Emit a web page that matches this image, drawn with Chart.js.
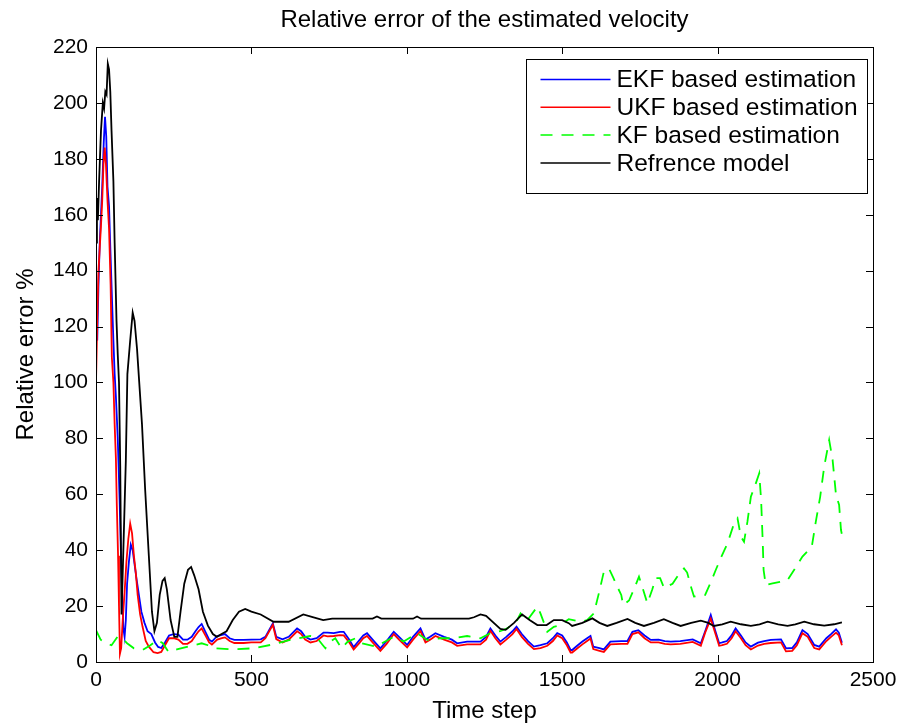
<!DOCTYPE html>
<html>
<head>
<meta charset="utf-8">
<title>Relative error of the estimated velocity</title>
<script src="https://cdn.jsdelivr.net/npm/chart.js@4.4.1/dist/chart.umd.min.js"></script>
<style>
    html, body { margin: 0; padding: 0; background: #ffffff; }
    #wrap { width: 911px; height: 726px; }
</style>
</head>
<body>
<div id="wrap"><canvas id="errorChart" width="911" height="726"></canvas></div>
<script>
// Series: [time step, relative error %]
const ekfSeries = [
    [0,118],[4,115],[8,135],[12,150],[16,160],[20,170],[25,186],[29,195],[33,188],[37,170],[42,163],[47,145],
    [52,128],[56,115],[60,103],[64,95],[70,80],[76,58],[80,40],[84,25],[88,12],[92,9],[96,15],[100,28],
    [106,36],[112,42],[118,40],[124,35],[130,30],[138,24],[146,18],[156,14],[166,11],[178,10],[190,7],
    [200,5.4],[210,5],[222,7],[235,9.5],[250,10],[265,9.8],[280,8],[294,8],[308,9],[320,11],[330,12.5],
    [340,13.6],[352,10.8],[364,8],[373,7.3],[390,9.3],[405,9.7],[415,10],[430,8.5],[445,7.9],[475,7.9],
    [500,8],[530,8.1],[545,9],[560,12],[569,13.8],[580,9],[600,8.1],[620,9],[647,12],[660,11],[673,9],
    [690,8],[710,8.5],[732,10.5],[745,10.5],[765,10.3],[785,10.8],[797,10.8],[815,8],[829,5.3],[845,7.5],
    [860,9.5],[872,10.3],[890,8],[915,4.9],[935,7.5],[958,10.8],[975,9],[1001,6.1],[1020,9],[1044,12],
    [1060,8],[1075,9],[1092,10.3],[1120,9],[1145,8],[1162,6.7],[1194,7.3],[1237,7.3],[1255,9],[1269,12],
    [1285,9.5],[1301,7.3],[1320,9],[1340,11],[1353,12.6],[1370,10],[1390,7.5],[1409,5.5],[1430,6],
    [1452,6.7],[1470,8.5],[1484,10.3],[1500,9.5],[1515,7],[1527,4.3],[1532,4.3],[1550,6],[1565,7.3],
    [1580,8.5],[1591,9.3],[1600,5.5],[1620,5],[1634,4.5],[1655,7.3],[1690,7.5],[1710,7.5],[1726,10.8],
    [1745,11.4],[1765,9.5],[1785,7.9],[1810,8],[1830,7.5],[1849,7.3],[1880,7.5],[1920,8.1],[1946,6.7],
    [1960,11],[1978,16.8],[1992,11.4],[2005,6.7],[2015,7],[2030,7.5],[2045,9.5],[2058,12],[2075,9.5],
    [2090,7],[2107,5.5],[2130,6.9],[2150,7.5],[2171,7.9],[2204,8.1],[2220,4.9],[2240,5],[2255,7],
    [2273,11.4],[2290,10],[2311,6.1],[2327,5.5],[2350,8.5],[2365,10],[2381,11.7],[2390,10.5],[2400,6.9]
];

const ukfSeries = [
    [0,100],[4,122],[8,140],[12,148],[16,156],[20,165],[24,178],[28,184],[32,178],[37,165],[42,155],[47,135],
    [51,109],[56,100],[60,85],[64,73],[67,56],[71,38],[74,20],[77,3],[81,5],[86,15],[92,25],[98,36],
    [104,44],[110,49.5],[116,46],[122,38],[128,32],[134,24],[142,17],[150,12.5],[160,7.5],[170,5.5],
    [185,3.5],[198,3.2],[210,3.6],[222,6],[235,8.5],[250,8.5],[265,8],[280,6.5],[294,6.5],[308,7.5],
    [320,9.5],[330,11],[340,12],[352,9.5],[364,7],[373,6.2],[390,8],[405,8.5],[415,8.8],[430,7.5],
    [445,6.8],[475,6.8],[500,7],[530,7],[545,8.5],[560,11.5],[569,13.3],[580,8.2],[600,7],[620,8],
    [647,11],[660,10],[673,8],[690,7],[710,7.5],[732,9.5],[745,9.2],[765,9.3],[785,9.6],[797,9.5],
    [815,7],[829,4.5],[845,6.5],[860,8.5],[872,9.3],[890,7],[915,4],[935,6.5],[958,10],[975,8],
    [1001,5.2],[1020,8],[1044,11],[1060,7],[1075,8],[1092,9.3],[1120,8],[1145,7],[1162,5.8],[1194,6.3],
    [1237,6.3],[1255,8],[1269,11.2],[1285,8.5],[1301,6.3],[1320,8],[1340,10],[1353,11.8],[1370,9],
    [1390,6.5],[1409,4.6],[1430,5],[1452,5.8],[1470,7.5],[1484,9.5],[1500,8.5],[1515,6],[1527,3.4],
    [1532,3.4],[1550,5],[1565,6.3],[1580,7.5],[1591,8.4],[1600,4.6],[1620,4],[1634,3.6],[1655,6.3],
    [1690,6.5],[1710,6.5],[1726,10],[1745,10.6],[1765,8.5],[1785,7],[1810,7],[1830,6.5],[1849,6.3],
    [1880,6.5],[1920,7.2],[1946,5.8],[1960,10.5],[1978,15.5],[1992,10.5],[2005,5.8],[2015,6],[2030,6.5],
    [2045,8.5],[2058,11],[2075,8.5],[2090,6],[2107,4.5],[2130,5.9],[2150,6.5],[2171,6.8],[2204,7],
    [2220,3.8],[2240,4],[2255,6],[2273,10.3],[2290,9],[2311,5],[2327,4.5],[2350,7.5],[2365,9],
    [2381,10.5],[2390,9.5],[2400,6]
];

const kfSeries = [
    [0,11.4],[15,8],[30,6.8],[50,6],[69,9],[85,8.5],[100,6.7],[122,4.9],[150,4.3],[175,6],[198,7.9],
    [215,6.7],[233,3.7],[260,4.5],[303,5.7],[340,6.7],[360,6],[383,4.9],[440,4.5],[507,4.9],[561,6.1],
    [625,7.9],[689,9.3],[710,8.8],[730,6],[738,4.9],[750,7],[770,8.5],[790,4.9],[810,7.3],[835,8.5],
    [855,6.7],[900,5.5],[958,9],[990,7.3],[1033,10.3],[1066,7.9],[1110,8.5],[1150,8.5],[1194,9.3],
    [1237,8.5],[1269,10.3],[1300,11],[1323,12],[1355,15],[1366,17.4],[1385,14.5],[1420,19.8],[1430,17.4],
    [1452,10.8],[1473,12.6],[1494,13.2],[1521,15.3],[1559,14.4],[1580,15],[1602,17.4],[1618,24.6],
    [1634,32.3],[1650,33.5],[1665,30],[1677,27],[1690,24],[1696,20.4],[1715,22],[1730,25.8],[1747,30.5],
    [1760,26],[1774,21],[1790,26],[1801,30],[1815,30],[1828,26.4],[1855,28],[1870,30.5],[1892,33.5],
    [1902,32],[1914,27],[1924,23.4],[1960,24],[1976,28],[1994,32.9],[2010,37.1],[2032,42.5],[2053,49.6],
    [2064,51.4],[2075,44.8],[2085,43],[2096,50.2],[2107,59.1],[2123,63.9],[2134,67.5],[2140,58],
    [2145,43.6],[2148,32.9],[2155,27.5],[2177,28.1],[2225,29.3],[2246,32.9],[2273,37.7],[2303,41.2],
    [2316,50.2],[2330,59.1],[2343,69.9],[2359,79.4],[2370,72.3],[2381,59.7],[2391,56.2],[2397,47.2],
    [2405,43]
];

const refSeries = [
    [0,150],[3,166],[6,158],[10,172],[16,190],[22,200],[26,198],[30,204],[34,203],[38,214],[42,212],
    [46,204],[50,190],[56,172],[60,150],[66,122],[70,110],[74,100],[78,70],[82,17],[86,32],[96,72],
    [101,103],[110,115],[118,125],[124,122],[132,112],[148,85],[158,62],[170,38],[180,18],[188,11],
    [196,14],[205,24],[214,29],[221,30],[228,26],[240,15],[252,9],[262,9],[272,18],[284,28],[296,33],
    [306,34],[316,31],[330,26],[344,18],[360,13],[376,10],[389,9],[404,10],[420,11],[440,15],[460,18],
    [480,19],[500,18],[530,17],[571,14.4],[620,14.4],[667,17],[700,16],[731,15],[760,15.5],[800,15.5],
    [890,15.5],[904,16.3],[918,15.5],[1020,15.5],[1033,16.3],[1046,15.5],[1200,15.5],[1216,16],
    [1237,17],[1255,16.5],[1301,11.8],[1318,11.5],[1345,14],[1371,17],[1395,15],[1420,13.2],[1450,13.2],
    [1473,15],[1500,15],[1521,13.9],[1532,12.9],[1565,14],[1597,15.6],[1620,14],[1645,12.9],[1675,14],
    [1710,15.4],[1735,14],[1763,12.9],[1795,14],[1827,15.3],[1855,14],[1881,12.9],[1915,14],[1946,14.8],
    [1970,14],[1988,12.9],[2015,13.5],[2042,14.4],[2075,13.5],[2107,12.9],[2135,13.5],[2161,14.4],
    [2195,13.5],[2225,12.9],[2250,13.5],[2279,14.4],[2310,13.5],[2343,13],[2375,13.5],[2400,14.2]
];

const seriesLabels = ['EKF based estimation', 'UKF based estimation', 'KF based estimation', 'Refrence model'];
const xTicks = [0, 500, 1000, 1500, 2000, 2500];
const yTicks = [0, 20, 40, 60, 80, 100, 120, 140, 160, 180, 200, 220];

const FONT = "'Liberation Sans', Arial, Helvetica, sans-serif";

const toPoints = (series) => series.map(p => ({ x: p[0], y: p[1] }));

// Box around the axes with inward tick marks on all four sides (MATLAB look)
const axesBox = {
    id: 'axesBox',
    afterDatasetsDraw(chart) {
        const { ctx, chartArea: a, scales: { x, y } } = chart;
        const len = 7;
        ctx.save();
        ctx.strokeStyle = '#000';
        ctx.lineWidth = 1;
        ctx.beginPath();
        xTicks.forEach(v => {
            const px = Math.round(x.getPixelForValue(v)) + 0.5;
            ctx.moveTo(px, a.bottom); ctx.lineTo(px, a.bottom - len);
            ctx.moveTo(px, a.top); ctx.lineTo(px, a.top + len);
        });
        yTicks.forEach(v => {
            const py = Math.round(y.getPixelForValue(v)) + 0.5;
            ctx.moveTo(a.left, py); ctx.lineTo(a.left + len, py);
            ctx.moveTo(a.right, py); ctx.lineTo(a.right - len, py);
        });
        ctx.stroke();
        ctx.strokeRect(Math.round(a.left) + 0.5, Math.round(a.top) + 0.5,
            Math.round(a.right - a.left), Math.round(a.bottom - a.top));
        ctx.restore();
    }
};

// Legend box in the upper right corner of the axes
const boxLegend = {
    id: 'boxLegend',
    afterDraw(chart) {
        const { ctx, chartArea: a } = chart;
        const w = 341, h = 134;
        const left = Math.round(a.right - 347) + 0.5;
        const top = Math.round(a.top + 12) + 0.5;
        ctx.save();
        ctx.fillStyle = '#fff';
        ctx.fillRect(left, top, w, h);
        ctx.strokeStyle = '#000';
        ctx.lineWidth = 1;
        ctx.strokeRect(left, top, w, h);
        ctx.font = '24.5px ' + FONT;
        ctx.textBaseline = 'middle';
        chart.data.datasets.forEach((ds, i) => {
            const rowY = top + 20 + i * 27.8;
            ctx.beginPath();
            ctx.strokeStyle = ds.borderColor;
            ctx.lineWidth = 1.5;
            ctx.setLineDash(ds.borderDash || []);
            ctx.moveTo(left + 14, rowY);
            ctx.lineTo(left + 84, rowY);
            ctx.stroke();
            ctx.setLineDash([]);
            ctx.fillStyle = '#000';
            ctx.fillText(ds.label, left + 90, rowY + 1);
        });
        ctx.restore();
    }
};

function makeDataset(label, series, color, order, dash) {
    return {
        label: label,
        data: toPoints(series),
        borderColor: color,
        borderWidth: 1.8,
        borderDash: dash || [],
        pointRadius: 0,
        tension: 0,
        fill: false,
        order: order
    };
}

const ctx = document.getElementById('errorChart').getContext('2d');
new Chart(ctx, {
    type: 'line',
    data: {
        datasets: [
            makeDataset(seriesLabels[0], ekfSeries, '#0000ff', 4),
            makeDataset(seriesLabels[1], ukfSeries, '#ff0000', 3),
            makeDataset(seriesLabels[2], kfSeries, '#00ff00', 2, [12, 9]),
            makeDataset(seriesLabels[3], refSeries, '#000000', 1)
        ]
    },
    options: {
        responsive: false,
        animation: false,
        layout: { padding: { left: 0, right: 38, top: 0, bottom: 0 } },
        plugins: {
            legend: { display: false },
            tooltip: { enabled: false }
        },
        scales: {
            x: {
                type: 'linear',
                min: 0,
                max: 2500,
                afterBuildTicks: (scale) => { scale.ticks = xTicks.map(v => ({ value: v })); },
                afterFit: (scale) => { scale.height = 64; },
                grid: { display: false, drawTicks: false },
                border: { display: false },
                ticks: {
                    color: '#000', padding: 6, maxRotation: 0,
                    font: { family: FONT, size: 21 },
                    callback: (v) => String(v)
                },
                title: {
                    display: true,
                    text: 'Time step',
                    color: '#000',
                    font: { family: FONT, size: 24 },
                    padding: { top: 0, bottom: 0 }
                }
            },
            // top axis only carries the title so it is centred over the axes
            xTop: {
                type: 'linear',
                position: 'top',
                min: 0,
                max: 2500,
                afterFit: (scale) => { scale.height = 47; },
                grid: { display: false, drawTicks: false },
                border: { display: false },
                ticks: { display: false },
                title: {
                    display: true,
                    text: 'Relative error of the estimated velocity',
                    color: '#000',
                    font: { family: FONT, size: 24 },
                    padding: { top: 6, bottom: 0 }
                }
            },
            y: {
                type: 'linear',
                min: 0,
                max: 220,
                afterBuildTicks: (scale) => { scale.ticks = yTicks.map(v => ({ value: v })); },
                afterFit: (scale) => { scale.width = 96; },
                grid: { display: false, drawTicks: false },
                border: { display: false },
                ticks: { color: '#000', padding: 8, font: { family: FONT, size: 21 } },
                title: {
                    display: true,
                    text: 'Relative error %',
                    color: '#000',
                    font: { family: FONT, size: 24 },
                    padding: { top: 12, bottom: 0 }
                }
            }
        }
    },
    plugins: [axesBox, boxLegend]
});
</script>
</body>
</html>
